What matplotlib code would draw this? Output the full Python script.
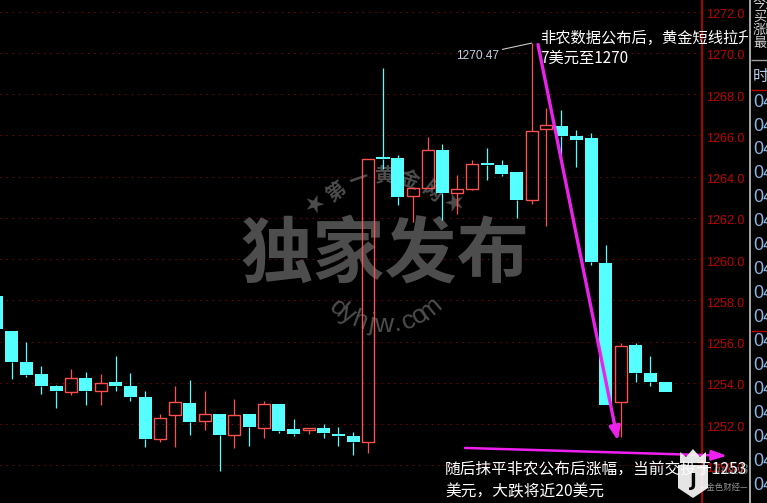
import matplotlib
matplotlib.use("Agg")
import matplotlib.pyplot as plt
from matplotlib.patches import Polygon, Rectangle
from matplotlib.transforms import blended_transform_factory, ScaledTranslation
import numpy as np

# ---------------- data ----------------
opens = [1258.21, 1256.51, 1255.00, 1254.43, 1253.84, 1253.57, 1254.23, 1253.60, 1254.04, 1253.84,
         1253.31, 1251.27, 1252.44, 1253.02, 1252.15, 1252.49, 1251.47, 1252.49, 1251.81, 1252.97,
         1251.76, 1251.71, 1251.81, 1251.52, 1251.42, 1251.13, 1264.95, 1264.90, 1263.06, 1263.45,
         1265.29, 1263.20, 1263.40, 1264.66, 1264.56, 1264.22, 1262.86, 1266.30, 1266.45, 1265.97,
         1265.87, 1259.81, 1253.07, 1255.83, 1254.47, 1254.04]
highs = [1258.21, 1256.51, 1256.00, 1254.81, 1253.90, 1254.67, 1254.52, 1254.42, 1255.30, 1254.47,
         1253.60, 1252.49, 1253.84, 1254.13, 1253.60, 1252.49, 1253.21, 1252.50, 1253.12, 1252.97,
         1252.24, 1251.81, 1252.00, 1251.86, 1251.61, 1264.86, 1269.27, 1265.05, 1263.45, 1265.92,
         1265.58, 1264.08, 1264.80, 1265.39, 1264.80, 1264.22, 1270.47, 1267.33, 1267.23, 1266.26,
         1266.12, 1260.68, 1255.93, 1255.93, 1255.30, 1254.04]
lows = [1256.61, 1254.20, 1254.30, 1253.46, 1252.78, 1253.41, 1252.92, 1252.92, 1253.60, 1253.12,
        1250.89, 1251.13, 1250.89, 1251.47, 1251.72, 1249.72, 1250.84, 1250.93, 1251.32, 1251.56,
        1251.42, 1251.52, 1251.32, 1250.93, 1250.50, 1250.60, 1264.37, 1262.60, 1261.80, 1263.45,
        1261.90, 1262.19, 1263.35, 1263.84, 1264.03, 1261.99, 1262.66, 1261.60, 1264.90, 1264.47,
        1259.71, 1252.92, 1251.37, 1254.04, 1253.84, 1253.55]
closes = [1256.61, 1255.02, 1254.37, 1253.84, 1253.60, 1254.23, 1253.60, 1253.99, 1253.84, 1253.31,
          1251.27, 1252.29, 1253.07, 1252.10, 1252.49, 1251.47, 1252.44, 1251.86, 1252.97, 1251.66,
          1251.52, 1251.81, 1251.56, 1251.42, 1251.13, 1264.86, 1264.86, 1263.00, 1263.45, 1265.29,
          1263.20, 1263.40, 1264.61, 1264.56, 1264.12, 1262.86, 1266.20, 1266.50, 1265.97, 1265.78,
          1259.86, 1252.92, 1255.78, 1254.47, 1254.04, 1253.55]

price_ticks = [1250, 1252, 1254, 1256, 1258, 1260, 1262, 1264, 1266, 1268, 1270, 1272]
tick_labels = ["1250.0", "1252.0", "1254.0", "1256.0", "1258.0", "1260.0",
               "1262.0", "1264.0", "1266.0", "1268.0", "1270.0", "1272.0"]
peak_index = 36
peak_value = 1270.47
peak_label = "1270.47"
note_top = ["非农数据公布后，黄金短线拉升", "7美元至1270"]
note_bottom = ["随后抹平非农公布后涨幅，当前交投于1253", "美元，大跌将近20美元"]
panel_top = ["今开", "买价", "涨跌", "最高"]
panel_head = "时"
panel_row = "04"

CJK = ["Noto Sans CJK SC", "DejaVu Sans"]
RED = "#ff5050"
CYAN = "#55ffff"
GRID = "#a00000"
AXRED = "#d00000"
WM = "#4d4d4d"
MAG = "#f020f0"

W, H = 767, 503
fig = plt.figure(figsize=(W / 100, H / 100), dpi=100, facecolor="black")
ax = fig.add_axes([0, 0, 702 / W, 1])
ax.set_facecolor("black")
ov = fig.add_axes([0, 0, 1, 1], zorder=5)
ov.set_xlim(0, W)
ov.set_ylim(H, 0)
ov.axis("off")

xlim = (0.226, 47.467)
ylim = (1248.17, 1272.56)
ax.set_xlim(*xlim)
ax.set_ylim(*ylim)
for s in ["top", "left", "bottom"]:
    ax.spines[s].set_visible(False)
ax.spines["right"].set_color(AXRED)
ax.spines["right"].set_linewidth(1.2)
ax.set_xticks([])
ax.set_yticks([])

# grid
ax.hlines(price_ticks, xlim[0], xlim[1], colors=GRID, linestyles=(0, (1, 5)), lw=0.75, zorder=0.8)

# right axis labels
btr = blended_transform_factory(ax.transAxes, ax.transData)
off = ScaledTranslation(4 / 100, -3.5 / 100, fig.dpi_scale_trans)
for v, lab in zip(price_ticks, tick_labels):
    ax.text(1.0, v, lab, transform=btr + off, color="#c00000", fontsize=9,
            family="Liberation Sans", ha="left", va="center", clip_on=False)

# ---------------- watermark ----------------
cx, cy = 384, 253
ax.text(385, 255, "独家发布", transform=ov.transData, fontsize=52, fontweight="heavy",
        color=WM, ha="center", va="center", family=CJK, zorder=0.9)
for ch, a in zip("第一黄金网", [-38, -19, 0, 19, 38]):
    r = np.radians(a)
    ax.text(cx + 77 * np.sin(r), cy - 77 * np.cos(r), ch, transform=ov.transData,
            rotation=-a, rotation_mode="anchor", ha="center", va="center",
            fontsize=14, fontweight="heavy", color=WM, family=CJK, zorder=0.9)
for a in [-54, 54]:
    r = np.radians(a)
    ax.text(cx + 85 * np.sin(r), cy - 85 * np.cos(r), "★", transform=ov.transData,
            rotation=-a, rotation_mode="anchor", ha="center", va="center",
            fontsize=17, color=WM, family="DejaVu Sans", zorder=0.9)
for ch, a in zip("dyhjw.com", np.linspace(-40, 40, 9)):
    r = np.radians(a)
    ax.text(cx + 72 * np.sin(r), cy + 72 * np.cos(r), ch, transform=ov.transData,
            rotation=a, rotation_mode="anchor", ha="center", va="center",
            fontsize=19, color=WM, family="Liberation Sans", zorder=0.9)

# ---------------- candles ----------------
o = np.array(opens); c = np.array(closes); h = np.array(highs); l = np.array(lows)
x = np.arange(len(o))
up = c >= o
lo_b = np.minimum(o, c); hi_b = np.maximum(o, c)
cols = np.where(up, RED, CYAN)
ax.vlines(x, hi_b, h, colors=cols, lw=0.9, zorder=2)
ax.vlines(x, l, lo_b, colors=cols, lw=0.9, zorder=2)
hgt = np.maximum(hi_b - lo_b, 0.05)
ax.bar(x[~up], hgt[~up], bottom=lo_b[~up], width=0.875, color=CYAN, lw=0, zorder=3)
ax.bar(x[up], hgt[up], bottom=lo_b[up], width=0.81, facecolor="none",
       edgecolor=RED, lw=1.0, zorder=3)

# ---------------- annotations ----------------
ov.annotate(peak_label, xy=(peak_index, peak_value), xycoords=ax.transData,
            xytext=(478, 56), textcoords="data", ha="center", va="center",
            color="#c4cede", fontsize=8.6, family="Liberation Sans",
            arrowprops=dict(arrowstyle="-", color="#c8c8c8", lw=0.8,
                            shrinkA=0, shrinkB=0, relpos=(1.0, 1.0)))
ov.text(540, 38, note_top[0], color="white", fontsize=11, family=CJK, ha="left", va="center")
ov.text(540, 58, note_top[1], color="white", fontsize=11, family=CJK, ha="left", va="center")
ov.text(445, 470, note_bottom[0], color="white", fontsize=11.3, family=CJK, ha="left", va="center")
ov.text(445, 492, note_bottom[1], color="white", fontsize=11.3, family=CJK, ha="left", va="center")

ov.annotate("", xy=(41.8, 1251.2), xycoords=ax.transData,
            xytext=(36.43, 1270.4), textcoords=ax.transData,
            arrowprops=dict(arrowstyle="-|>,head_length=0.8,head_width=0.33",
                            color="#ea22ea", lw=2.4, shrinkA=0, shrinkB=0))
ov.annotate("", xy=(49.15, 1250.46), xycoords=ax.transData,
            xytext=(31.52, 1250.84), textcoords=ax.transData,
            arrowprops=dict(arrowstyle="-|>,head_length=0.9,head_width=0.3",
                            color=MAG, lw=1.8, shrinkA=0, shrinkB=0))

# ---------------- right info panel ----------------
ov.add_patch(Rectangle((748, 0), 19, H, facecolor="black", edgecolor="none", zorder=10))
ov.vlines([749.5], 0, H, colors="#a8a8a8", lw=1.4, zorder=11)
ov.hlines([60], 751, W, colors="#a0a0a0", lw=1, zorder=11)
ov.hlines([90, 331], 751, W, colors="#c00000", lw=1, zorder=11)
for yy, t in zip([4, 17, 30, 43], panel_top):
    ov.text(753, yy, t, color="#d0d0d0", fontsize=9.5, family=CJK, ha="left", va="center", zorder=12)
ov.text(753, 76, panel_head, color="#b8cce8", fontsize=11.5, family=CJK, ha="left", va="center", zorder=12)
for yy in list(np.linspace(102, 318, 10)) + list(np.linspace(342, 485, 7)):
    ov.text(753, yy, panel_row, color="#8db4e2", fontsize=13, family="Liberation Sans",
            ha="left", va="center", zorder=12)

# ---------------- logo ----------------
ov.add_patch(Polygon([(680, 463), (680, 452), (686, 457), (693, 449), (700, 457), (706, 452), (706, 463)],
                     closed=True, facecolor="white", edgecolor="none", alpha=0.9, zorder=13))
ov.add_patch(Polygon([(678, 465), (708, 465), (708, 488), (693, 498), (678, 488)],
                     closed=True, facecolor="white", edgecolor="none", alpha=0.9, zorder=13))
ov.text(693, 481, "J", color="black", fontsize=13, fontweight="bold", family="DejaVu Sans",
        ha="center", va="center", zorder=14)
ov.text(712, 471, "JinseBi", color="#b8b8b8", fontsize=10, style="italic", family="Liberation Serif",
        ha="left", va="center", alpha=0.6, zorder=9)
ov.text(724, 487, "—金色财经—", color="#909090", fontsize=6, family=CJK,
        ha="center", va="center", zorder=9)

fig.savefig("out.png", dpi=100, facecolor="black")
